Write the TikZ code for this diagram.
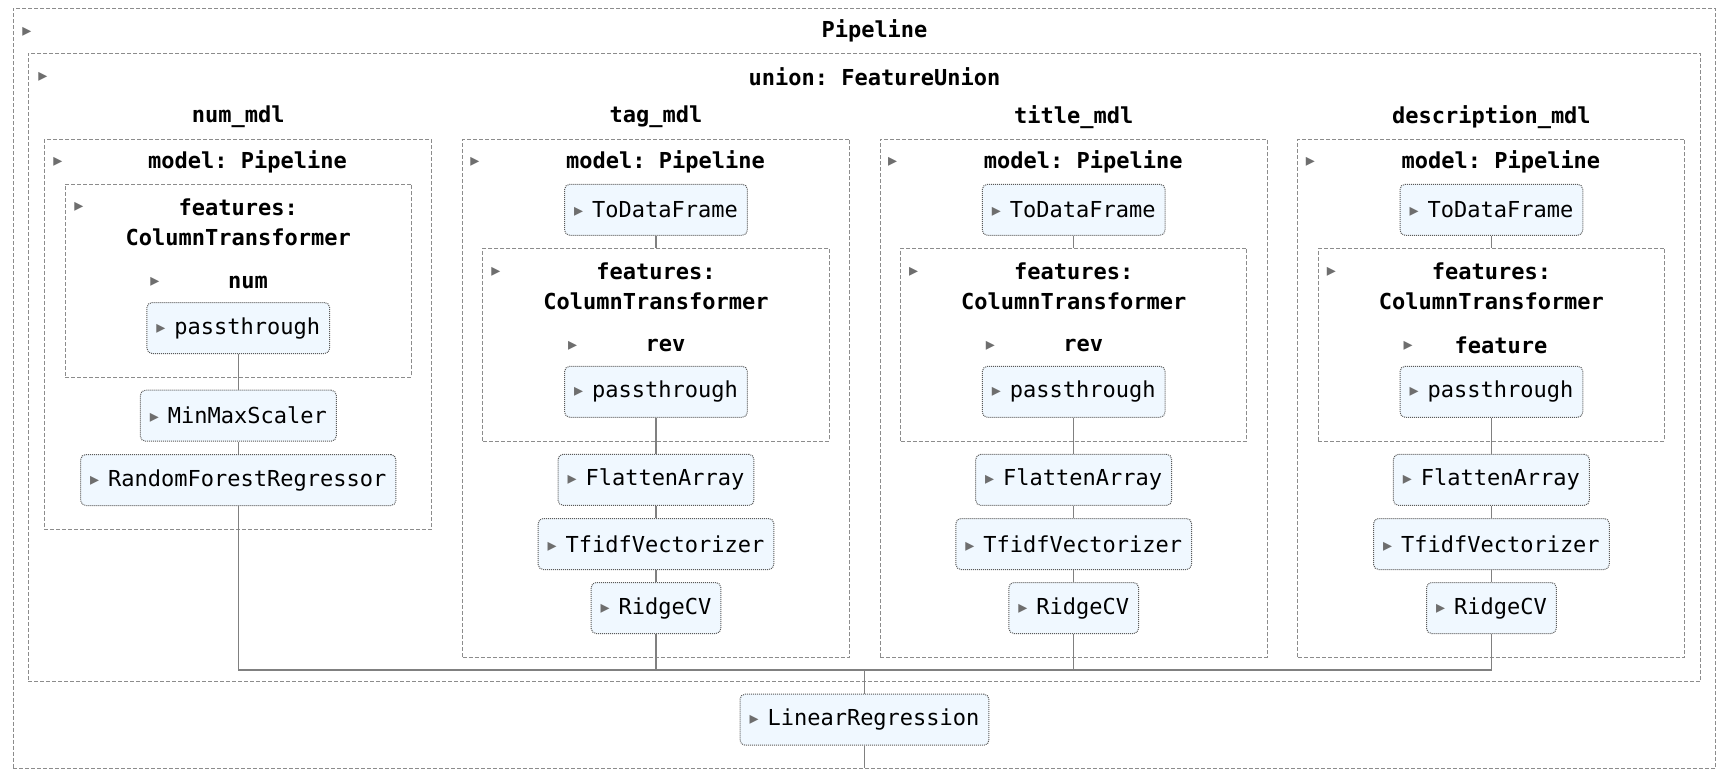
\documentclass[tikz,border=0pt]{standalone}
\usepackage{fontspec}
\setmonofont{DejaVu Sans Mono}
\newfontfamily\trifont{DejaVu Sans}
\definecolor{estfill}{HTML}{F0F8FF}
\definecolor{estline}{HTML}{5A5A5A}
\definecolor{grpline}{HTML}{8C8C8C}
\definecolor{wiregray}{HTML}{808080}
\definecolor{arrowgray}{HTML}{6E6E6E}
\newcommand\tri{\makebox[18pt][l]{\raisebox{1pt}{\trifont\fontsize{18}{18}\selectfont\color{arrowgray}▸}}}

\begin{document}
\begin{tikzpicture}[x=1pt,y=-1pt,
    est/.style={draw=estline,densely dotted,line width=1pt,fill=estfill,rounded corners=5pt,
      inner xsep=9.5pt,inner ysep=0pt,minimum height=51pt,font=\ttfamily\fontsize{22}{26}\selectfont},
    grp/.style={draw=grpline,dash pattern=on 4pt off 2pt,line width=1pt,inner sep=0pt},
    lbl/.style={font=\ttfamily\bfseries\fontsize{22}{30}\selectfont,align=center,inner sep=0pt},
    arr/.style={font=\trifont\fontsize{18}{18}\selectfont,text=arrowgray,inner sep=0pt},
    wire/.style={draw=wiregray,line width=1.5pt}]
    \useasboundingbox (0,0) rectangle (1725,777);
    % outer pipeline and feature union
    \node[grp,minimum width=1702.4,minimum height=760] (pipe) at (864.5,388.3) {};
    \node[arr] (pipea) at (27,32) {▸};
    \node[lbl] (pipelbl) at (874.5,31) {Pipeline};
    \node[grp,minimum width=1672.4,minimum height=628.2] (union) at (864.5,367.4) {};
    \node[arr] (uniona) at (43,77) {▸};
    \node[lbl] (unionlbl) at (874.5,77) {union: FeatureUnion};
    \coordinate (join) at (864.5,670);
    % numeric model
    \node[lbl] (numname) at (238.3,117) {num\_mdl};
    \node[grp,minimum width=387.4,minimum height=390] (nummdl) at (238,334.3) {};
    \node[arr] (numa1) at (58,162) {▸};
    \node[lbl] (nummlbl) at (247.5,162) {model: Pipeline};
    \node[grp,minimum width=346.4,minimum height=193] (numft) at (238.5,280.5) {};
    \node[arr] (numa2) at (79,207) {▸};
    \node[lbl] (numflbl) at (238.3,222) {features:\\ColumnTransformer};
    \node[arr] (numa3) at (155,282) {▸};
    \node[lbl] (numclbl) at (248,282) {num};
    \node[est] (numpt) at (238.3,328) {\tri passthrough};
    \node[est] (mms) at (238.3,415.7) {\tri MinMaxScaler};
    \node[est] (rfr) at (238.3,480) {\tri RandomForestRegressor};
    \draw[wire] (numpt.south) -- (mms.north);
    \draw[wire] (mms.south) -- (rfr.north);
    \draw[wire] (rfr.south) |- (join);
    % text models
    \foreach \k/\mdl/\col/\nm in {1/tag\_mdl/rev/tag,2/title\_mdl/rev/title,3/description\_mdl/feature/desc}{
      \pgfmathsetmacro\cx{238.3+417.7*\k}
      \node[lbl] (\nm-name) at (\cx,117) {\mdl};
      \node[grp,minimum width=387,minimum height=518] (\nm-mdl) at (\cx,398.3) {};
      \node[arr] (\nm-a1) at (\cx-181,162) {▸};
      \node[lbl] (\nm-mlbl) at (\cx+9.5,162) {model: Pipeline};
      \node[est] (\nm-tdf) at (\cx,209.8) {\tri ToDataFrame};
      \node[grp,minimum width=346.4,minimum height=192.7] (\nm-ft) at (\cx,344.7) {};
      \node[arr] (\nm-a2) at (\cx-160,271.7) {▸};
      \node[lbl] (\nm-flbl) at (\cx,286.2) {features:\\ColumnTransformer};
      \node[arr] (\nm-a3) at (\cx-83.3,345.7) {▸};
      \node[lbl] (\nm-clbl) at (\cx+9.5,345.7) {\col};
      \node[est] (\nm-pt) at (\cx,391.8) {\tri passthrough};
      \node[est] (\nm-fa) at (\cx,479.8) {\tri FlattenArray};
      \node[est] (\nm-tf) at (\cx,544) {\tri TfidfVectorizer};
      \node[est] (\nm-rcv) at (\cx,608) {\tri RidgeCV};
      \draw[wire] (\nm-tdf.south) -- (\nm-ft.north);
      \draw[wire] (\nm-pt.south) -- (\nm-fa.north);
      \draw[wire] (\nm-fa.south) -- (\nm-tf.north);
      \draw[wire] (\nm-tf.south) -- (\nm-rcv.north);
      \draw[wire] (\nm-rcv.south) |- (join);
    }
    % final estimator
    \node[est] (lr) at (864.5,719.7) {\tri LinearRegression};
    \coordinate (out) at (864.5,768.3);
    \draw[wire] (join) -- (lr.north);
    \draw[wire] (lr.south) -- (out);
\end{tikzpicture}
\end{document}
